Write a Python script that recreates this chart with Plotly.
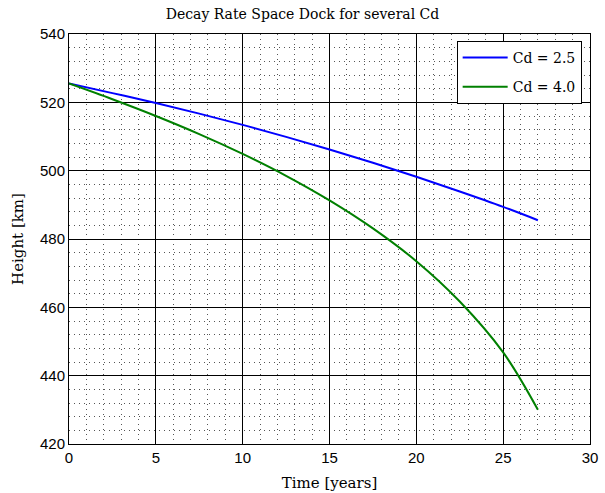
import plotly.graph_objects as go

time_years = [0, 2.5, 5, 7.5, 10, 12.5, 15, 17.5, 20, 22.5, 25, 27]
height_cd25 = [525.5, 522.7, 519.8, 516.7, 513.4, 509.9, 506.2, 502.3, 498.2, 493.9, 489.4, 485.5]
height_cd40 = [525.5, 520.9, 516.0, 510.7, 504.9, 498.5, 491.3, 483.1, 473.5, 461.7, 446.8, 430.0]
series_names = ["Cd = 2.5", "Cd = 4.0"]

serif = "DejaVu Serif, Liberation Serif, serif"
sans = "Liberation Sans Narrow, Liberation Sans, Arial, sans-serif"

fig = go.Figure()
fig.add_trace(go.Scatter(x=time_years, y=height_cd25, mode="lines", name=series_names[0],
                         legendgroup="a",
                         line=dict(color="#0000ff", width=2, shape="spline")))
fig.add_trace(go.Scatter(x=time_years, y=height_cd40, mode="lines", name=series_names[1],
                         legendgroup="b",
                         line=dict(color="#008000", width=2, shape="spline")))

axis_common = dict(
    showline=True, mirror=True, linecolor="black", linewidth=1,
    showgrid=True, gridcolor="black", gridwidth=1,
    zeroline=False, ticks="inside", ticklen=4, tickcolor="black",
    tickfont=dict(family=sans, size=15, color="black"),
    automargin=False,
)

fig.update_xaxes(range=[0, 30], dtick=5, tick0=0,
                 minor=dict(dtick=1, showgrid=True, gridcolor="#555", griddash="1px,4px", gridwidth=1),
                 title=dict(text="Time [years]", font=dict(family=serif, size=15, color="black"), standoff=12),
                 **axis_common)
fig.update_yaxes(range=[420, 540], dtick=20, tick0=420,
                 minor=dict(dtick=4, showgrid=True, gridcolor="#555", griddash="1px,4px", gridwidth=1),
                 title=dict(text="Height [km]", font=dict(family=serif, size=15, color="black"), standoff=12),
                 **axis_common)

fig.update_layout(
    width=605, height=493,
    margin=dict(l=69, r=15, t=34, b=49),
    paper_bgcolor="white", plot_bgcolor="white",
    title=dict(text="Decay Rate Space Dock for several Cd", x=0.5, xanchor="center",
               y=0.972, yanchor="middle", font=dict(family=serif, size=14, color="black"),
               automargin=False),
    legend=dict(x=0.984, y=0.983, xanchor="right", yanchor="top",
                bgcolor="white", bordercolor="black", borderwidth=1,
                font=dict(family=serif, size=14, color="black"),
                tracegroupgap=8, itemwidth=45),
    showlegend=True,
)

fig.write_html("out.html")
